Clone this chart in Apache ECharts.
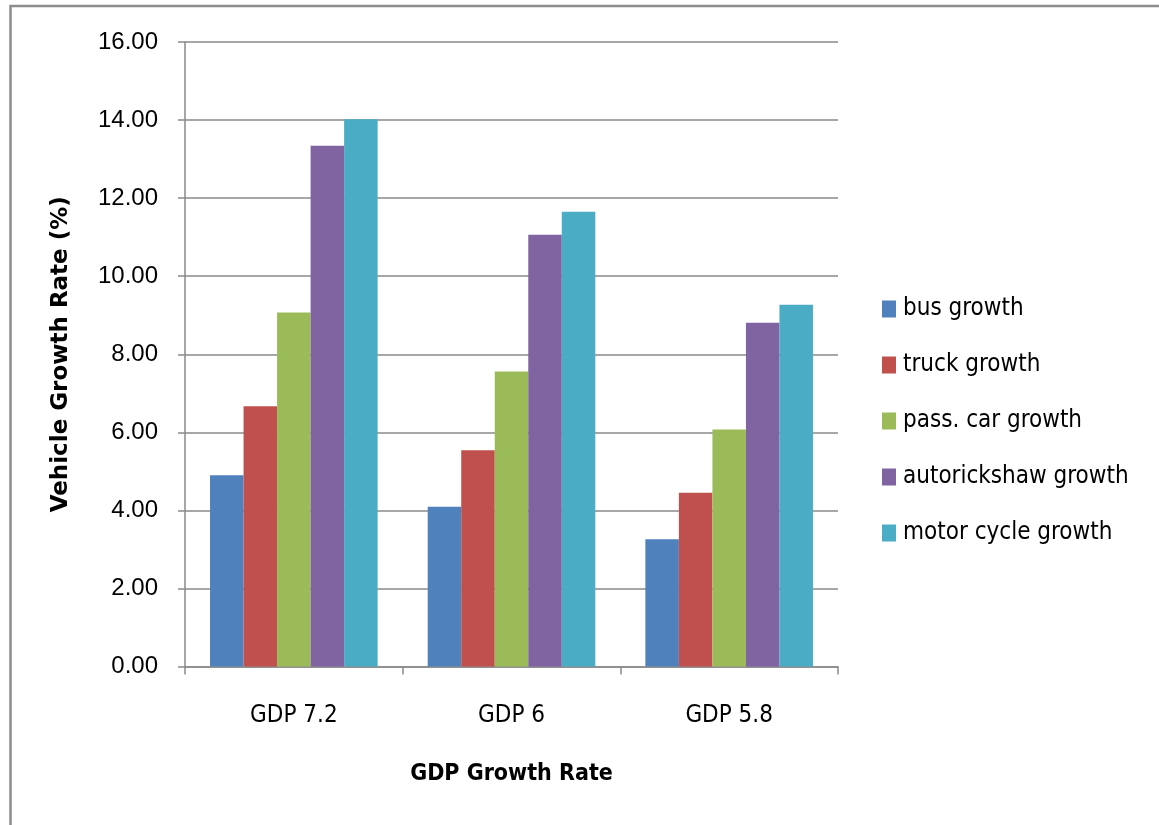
<!DOCTYPE html>
<html>
<head>
<meta charset="utf-8">
<script src="https://cdn.jsdelivr.net/npm/echarts@6/dist/echarts.min.js"></script>
<style>
  html, body { margin: 0; padding: 0; background: #ffffff; }
  #chart { width: 1159px; height: 825px; }
</style>
</head>
<body>
<div id="chart"></div>
<script>
// Vehicle growth rates (%) under three GDP growth scenarios
const categories = ['GDP 7.2', 'GDP 6', 'GDP 5.8'];
const busGrowth = [4.90, 4.09, 3.26];
const truckGrowth = [6.67, 5.54, 4.45];
const passCarGrowth = [9.07, 7.56, 6.07];
const autorickshawGrowth = [13.34, 11.06, 8.81];
const motorCycleGrowth = [14.02, 11.65, 9.27];
const seriesNames = ['bus growth', 'truck growth', 'pass. car growth', 'autorickshaw growth', 'motor cycle growth'];
const seriesColors = ['#4F81BD', '#C0504D', '#9BBB59', '#8064A2', '#4BACC6'];
const seriesValues = [busGrowth, truckGrowth, passCarGrowth, autorickshawGrowth, motorCycleGrowth];

const condensed = "'DejaVu Sans Condensed', 'Liberation Sans Narrow', 'DejaVu Sans', sans-serif";
const gridColor = '#8a8a8a';

const chart = echarts.init(document.getElementById('chart'), null, { renderer: 'canvas' });

chart.setOption({
  backgroundColor: '#ffffff',
  animation: false,
  graphic: [{
    type: 'rect',
    shape: { x: 10.5, y: 6, width: 1300, height: 1000 },
    style: { fill: 'none', stroke: '#8c8c8c', lineWidth: 2.5 },
    silent: true
  }],
  grid: { left: 185, right: 321, top: 42, bottom: 158.5, containLabel: false },
  legend: {
    orient: 'vertical',
    left: 882,
    top: 297,
    padding: 0,
    itemWidth: 14,
    itemHeight: 17,
    itemGap: 32,
    icon: 'rect',
    data: seriesNames,
    textStyle: {
      fontFamily: condensed,
      fontSize: 24,
      lineHeight: 24,
      color: '#000000',
      padding: [0, 0, 0, 2]
    }
  },
  xAxis: {
    type: 'category',
    data: categories,
    name: 'GDP Growth Rate',
    nameLocation: 'middle',
    nameGap: 96,
    nameTextStyle: { fontFamily: condensed, fontWeight: 'bold', fontSize: 23, color: '#000000' },
    axisLine: { show: true, lineStyle: { color: gridColor, width: 1.5 } },
    axisTick: { show: true, alignWithLabel: false, length: 8, lineStyle: { color: gridColor, width: 1.5 } },
    axisLabel: { margin: 37, fontFamily: condensed, fontSize: 24, color: '#000000' },
    splitLine: { show: false }
  },
  yAxis: {
    type: 'value',
    min: 0,
    max: 16,
    interval: 2,
    name: 'Vehicle Growth Rate (%)',
    nameLocation: 'middle',
    nameRotate: 90,
    nameGap: 112,
    nameTextStyle: { fontFamily: "'DejaVu Sans', sans-serif", fontWeight: 'bold', fontSize: 23, color: '#000000' },
    axisLine: { show: true, lineStyle: { color: gridColor, width: 1.5 } },
    axisTick: { show: true, length: 7, lineStyle: { color: gridColor, width: 1.5 } },
    axisLabel: {
      margin: 27,
      fontFamily: "'Liberation Sans', sans-serif",
      fontSize: 24,
      color: '#000000',
      formatter: v => v.toFixed(2)
    },
    splitLine: { show: true, lineStyle: { color: gridColor, width: 1.5 } }
  },
  series: seriesNames.map((name, i) => ({
    name: name,
    type: 'bar',
    data: seriesValues[i],
    barGap: '0%',
    barCategoryGap: '23%',
    itemStyle: { color: seriesColors[i] }
  }))
});
</script>
</body>
</html>
